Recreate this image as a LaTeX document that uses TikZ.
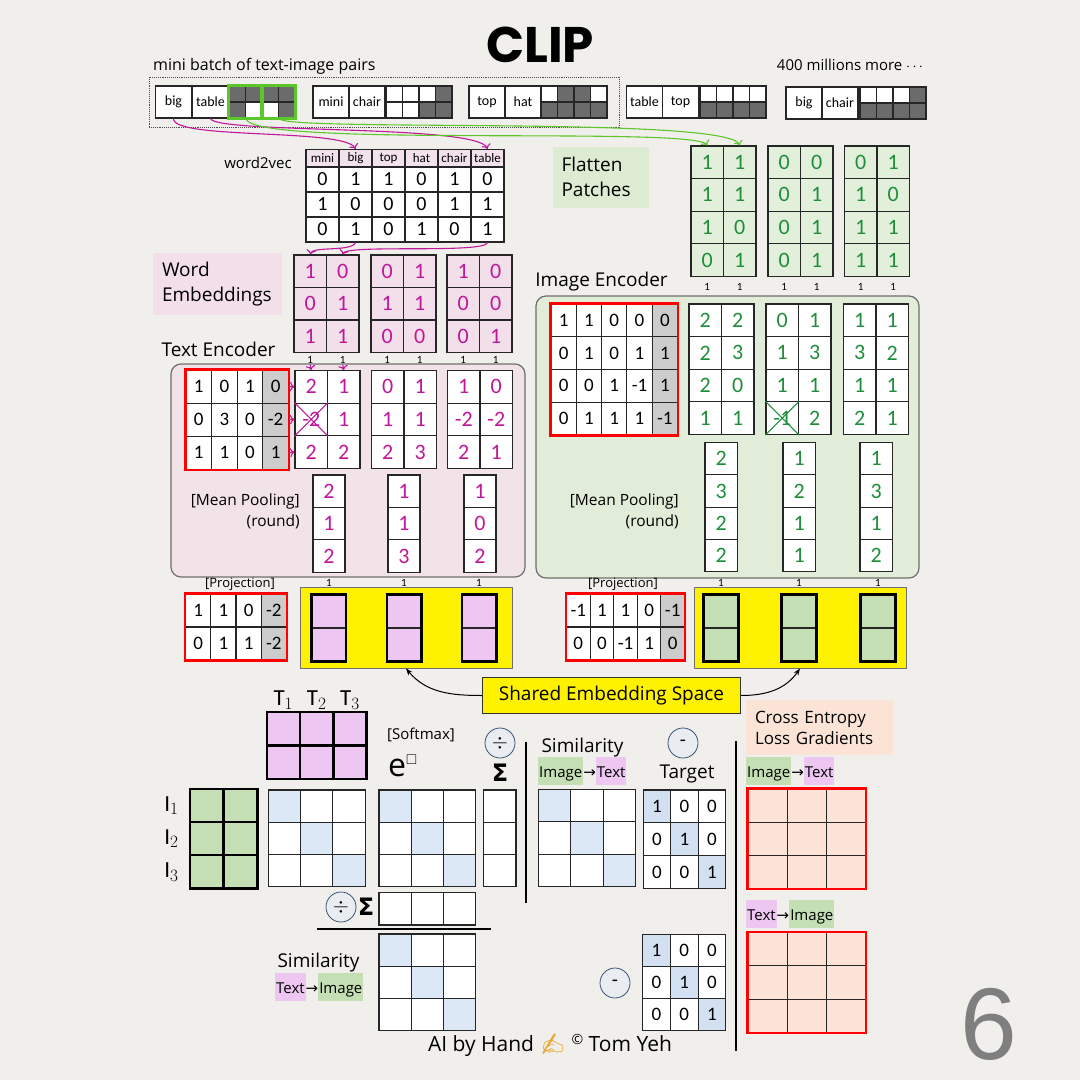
\documentclass[tikz,border=0pt]{standalone}
\usepackage{fontspec}
\usepackage{amssymb}
\setmainfont{Carlito}
\newfontfamily\lblfont{Open Sans}
\newfontfamily\titlefont{Poppins}
\newfontfamily\symfont{DejaVu Sans}
\newfontfamily\emojifont{Noto Emoji}
\newfontfamily\numfont{Liberation Sans}
\usetikzlibrary{arrows.meta, positioning}

\newcommand{\fs}[1]{\fontsize{#1}{#1}\selectfont}
\newcommand{\lf}[1]{\lblfont\fontsize{#1}{#1}\selectfont}

\definecolor{paper}{HTML}{F1EFEC}
\definecolor{pixdark}{HTML}{6B6B6B}
\definecolor{patchgreen}{HTML}{5CC72B}
\definecolor{handmag}{HTML}{C0179C}
\definecolor{handgrn}{HTML}{1F8E3B}
\definecolor{hdrpink}{HTML}{F3E2EB}
\definecolor{embpink}{HTML}{F2DFEA}
\definecolor{tencpink}{HTML}{F2E3E8}
\definecolor{iencgreen}{HTML}{E2EDD9}
\definecolor{flatgreen}{HTML}{E2EFDB}
\definecolor{flatbox}{HTML}{DCEBD2}
\definecolor{shade}{HTML}{CCCCCC}
\definecolor{projpink}{HTML}{EDC7F1}
\definecolor{projgreen}{HTML}{C5DFB4}
\definecolor{diagblue}{HTML}{DCE8F5}
\definecolor{tgblue}{HTML}{D3E0F1}
\definecolor{peach}{HTML}{FBE4D6}
\definecolor{circblue}{HTML}{3A5375}
\definecolor{circfill}{HTML}{E9ECF1}
\definecolor{panelgray}{HTML}{6F6F6F}
\definecolor{pagegray}{HTML}{7F7F7F}
\definecolor{handorange}{HTML}{E9A93A}

% colour tags for Image / Text
\newcommand{\imgtag}{{\setlength{\fboxsep}{1pt}\colorbox{projgreen}{\rule[-7pt]{0pt}{26pt}Image}}}
\newcommand{\txttag}{{\setlength{\fboxsep}{1pt}\colorbox{projpink}{\rule[-7pt]{0pt}{26pt}Text}}}
\newcommand{\tagarrow}{{\symfont\fs{15}→}}

% grid of cells with values: name, left, top, cell w, cell h, style, highlight test, rows
\newcommand{\mgrid}[8]{%
  \foreach \row [count=\i] in {#8} {
    \foreach \v [count=\j] in \row {
      \ifnum#7\relax\tikzset{hlcell/.style={hl}}\else\tikzset{hlcell/.style={}}\fi
      \node[cell, #6, hlcell, minimum width=#4pt, minimum height=#5pt]
        (#1-\i-\j) at ({#2+(\j-0.5)*#4},{#3+(\i-0.5)*#5}) {\v};
    }
  }
}
% empty grid: name, left, top, cell w, cell h, style, highlight test, cols, rows
\newcommand{\egrid}[9]{%
  \foreach \i in {1,...,#9} {
    \foreach \j in {1,...,#8} {
      \ifnum#7\relax\tikzset{hlcell/.style={hl}}\else\tikzset{hlcell/.style={}}\fi
      \node[cell, #6, hlcell, minimum width=#4pt, minimum height=#5pt]
        (#1-\i-\j) at ({#2+(\j-0.5)*#4},{#3+(\i-0.5)*#5}) {};
    }
  }
}

\tikzset{
  cell/.style={draw=black!85, line width=1.1pt, inner sep=0pt, fill=white},
  hl/.style={},
  hlcell/.style={},
  pix/.style={text opacity=0, hl/.style={fill=pixdark}},
  word/.style={cell, minimum width=36pt, minimum height=32pt, font=\fs{14}},
  hdr/.style={fill=hdrpink, font=\fs{13}},
  num/.style={font=\fs{20}},
  wnum/.style={font=\fs{19}, hl/.style={fill=shade}},
  tnum/.style={font=\fs{19}, hl/.style={fill=tgblue}},
  diag/.style={hl/.style={fill=diagblue}},
  mag/.style={text=handmag, font=\fs{22}},
  grn/.style={text=handgrn, font=\fs{22}},
  thickcell/.style={line width=2.4pt, draw=black},
  lbl/.style={font=\lf{19}, inner sep=1pt},
  small/.style={font=\fs{11}, inner sep=1pt},
  poollbl/.style={font=\lblfont\fontsize{15.5}{21}\selectfont, align=right, anchor=east, inner sep=1pt},
  tagbox/.style={align=left, inner xsep=9pt, font=\lblfont\fontsize{19}{25}\selectfont},
  tagline/.style={font=\lf{15}, anchor=north west, inner sep=0pt},
  panel/.style={draw=panelgray, line width=1.2pt, rounded corners=10pt},
  batchbox/.style={draw=black!70, densely dotted, line width=0.9pt},
  patchframe/.style={draw=patchgreen, line width=3pt},
  redframe/.style={draw=red, line width=2.6pt},
  thickframe/.style={draw=black, line width=2.8pt},
  yellowbox/.style={draw=panelgray, line width=1pt, fill=yellow},
  opcircle/.style={circle, draw=circblue, fill=circfill, minimum size=30pt, inner sep=0pt, line width=0.8pt, font=\fs{20}},
  sumsign/.style={font=\symfont\bfseries\fs{24}, inner sep=1pt},
  tlbl/.style={font=\fs{23}, inner sep=1pt},
  divline/.style={line width=1.6pt},
  magarr/.style={draw=handmag, line width=1.1pt, -{To[length=1.6mm]}},
  grnarr/.style={draw=patchgreen, line width=1.1pt, -{To[length=1.6mm]}},
  curvearr/.style={line width=1pt, -{Stealth[length=7pt]}},
}

\begin{document}
\begin{tikzpicture}[x=1pt, y=-1pt]
\useasboundingbox (0,0) rectangle (1080,1080);
\fill[paper] (0,0) rectangle (1080,1080);

\node[font=\titlefont\bfseries\fs{50}] (title) at (540,45) {CLIP};

% mini batch
\node[batchbox, minimum width=470pt, minimum height=50pt] (batch) at (384,102) {};
\node[lbl, font=\lf{16}, anchor=south west] (batchlbl) at (152,76) {mini batch of text-image pairs};
\node[lbl, font=\lf{15}] (more) at (850,65) {400 millions more $\cdots$};
\node[word] (p1a) at (173.5,102) {big};
\node[word] (p1b) at (210.5,102) {table};
\mgrid{p1img}{229}{86}{16.5}{16}{pix}{\v=1}{{1,1,1,1},{1,0,0,1}}
\draw[patchframe] (p1img-1-1.north west) rectangle (p1img-2-2.south east);
\draw[patchframe] (p1img-1-3.north west) rectangle (p1img-2-4.south east);
\node[word] (p2a) at (331,102) {mini};
\node[word] (p2b) at (367,102) {chair};
\mgrid{p2img}{386}{86}{16.5}{16}{pix}{\v=1}{{0,0,0,1},{0,0,1,1}}
\node[word] (p3a) at (487,102) {top};
\node[word] (p3b) at (523,102) {hat};
\mgrid{p3img}{541}{86}{16.5}{16}{pix}{\v=1}{{0,1,1,0},{1,1,1,1}}
\node[word] (p4a) at (644.5,102) {table};
\node[word] (p4b) at (680.5,102) {top};
\mgrid{p4img}{700}{86}{16.5}{16}{pix}{\v=1}{{0,0,0,0},{1,1,1,1}}
\node[word] (p5a) at (804,103) {big};
\node[word] (p5b) at (840,103) {chair};
\mgrid{p5img}{860}{87}{16.5}{16}{pix}{\v=1}{{0,0,0,1},{1,1,1,1}}

% word2vec
\node[lbl, font=\lf{15}] (w2vlbl) at (258,163) {word2vec};
\mgrid{w2vh}{306}{149.5}{33}{17.5}{hdr}{0=1}{{mini,big,top,hat,chair,table}}
\mgrid{w2v}{306}{167}{33}{25}{num}{0=1}{{0,1,1,0,1,0},{1,0,0,0,1,1},{0,1,0,1,0,1}}

% word embeddings
\node[tagbox, fill=embpink, text width=111pt, minimum height=62pt] (weblbl) at (217.5,284) {Word\\Embeddings};
\mgrid{we1}{294}{255}{32.5}{32.5}{mag, fill=embpink}{0=1}{{1,0},{0,1},{1,1}}
\mgrid{we2}{371}{255}{32.5}{32.5}{mag, fill=embpink}{0=1}{{0,1},{1,1},{0,0}}
\mgrid{we3}{447}{255}{32.5}{32.5}{mag, fill=embpink}{0=1}{{1,0},{0,0},{0,1}}
\foreach \x [count=\k] in {310.25,342.75,387.25,419.75,463.25,495.75}
  \node[small] (wone\k) at (\x,360) {1};

% flatten patches
\node[tagbox, fill=flatbox, text width=78pt, minimum height=61pt] (fplbl) at (600.5,177) {Flatten\\Patches};
\mgrid{fp1}{691}{146}{32.5}{32.6}{grn, fill=flatgreen}{0=1}{{1,1},{1,1},{1,0},{0,1}}
\mgrid{fp2}{768}{146}{32.5}{32.6}{grn, fill=flatgreen}{0=1}{{0,0},{0,1},{0,1},{0,1}}
\mgrid{fp3}{844.5}{146}{32.5}{32.6}{grn, fill=flatgreen}{0=1}{{0,1},{1,0},{1,1},{1,1}}
\foreach \x [count=\k] in {707.25,739.75,784.25,816.75,860.75,893.25}
  \node[small] (fone\k) at (\x,287) {1};

% batch -> word2vec / patches
\draw[magarr] (p1a.south) .. controls (172,140) and (345,128) .. (w2vh-1-2.north);
\draw[magarr] (p1b.south) .. controls (215,134) and (478,124) .. (w2vh-1-6.north);
\draw[grnarr] (p1img-2-1.south east) .. controls (250,148) and (695,126) .. (fp1-1-1.north);
\draw[grnarr] (p1img-2-3.south east) .. controls (285,132) and (728,116) .. (fp1-1-2.north);
\draw[magarr] (w2v-3-2.south) .. controls (352,252) and (312,246) .. (we1-1-1.north);
\draw[magarr] (w2v-3-6.south) .. controls (485,254) and (346,244) .. (we1-1-2.north);

% text encoder
\node[lbl] (tenclbl) at (218.5,349) {Text Encoder};
\node[panel, fill=tencpink, minimum width=354pt, minimum height=213pt] (tenc) at (348,470.5) {};
\mgrid{tw}{186}{370}{25.6}{33.1}{wnum}{\j=4}{{1,0,1,0},{0,3,0,-2},{1,1,0,1}}
\draw[redframe] (tw-1-1.north west) rectangle (tw-3-4.south east);
\mgrid{te1}{295}{370.5}{32.5}{32.6}{mag}{0=1}{{2,1},{-2,1},{2,2}}
\mgrid{te2}{371.5}{370.5}{32.5}{32.6}{mag}{0=1}{{0,1},{1,1},{2,3}}
\mgrid{te3}{447.5}{370.5}{32.5}{32.6}{mag}{0=1}{{1,0},{-2,-2},{2,1}}
\draw[handmag, line width=1pt] (te1-2-1.north west) -- (te1-2-1.south east)
  (te1-2-1.north east) -- (te1-2-1.south west);
\foreach \k in {1,2,3} \draw[magarr] (tw-\k-4.east) -- (te1-\k-1.west);
\draw[magarr] (wone1.south) -- (te1-1-1.north);
\draw[magarr] (wone2.south) -- (te1-1-2.north);
\mgrid{tp1}{313}{475}{32}{32.4}{mag}{0=1}{{2},{1},{2}}
\mgrid{tp2}{388}{475}{32}{32.4}{mag}{0=1}{{1},{1},{3}}
\mgrid{tp3}{464}{475}{32}{32.4}{mag}{0=1}{{1},{0},{2}}
\node[poollbl] (tpool) at (301,511) {[Mean Pooling]\\(round)};

% image encoder
\node[lbl] (ienclbl) at (601.5,282) {Image Encoder};
\node[panel, fill=iencgreen, minimum width=383pt, minimum height=282pt] (ienc) at (727.5,437) {};
\mgrid{iw}{551}{304}{25.3}{32.75}{wnum}{\j=5}{{1,1,0,0,0},{0,1,0,1,1},{0,0,1,-1,1},{0,1,1,1,-1}}
\draw[redframe] (iw-1-1.north west) rectangle (iw-4-5.south east);
\mgrid{ie1}{689}{304}{32.5}{32.6}{grn}{0=1}{{2,2},{2,3},{2,0},{1,1}}
\mgrid{ie2}{766}{304}{32.5}{32.6}{grn}{0=1}{{0,1},{1,3},{1,1},{-1,2}}
\mgrid{ie3}{843.5}{304}{32.5}{32.6}{grn}{0=1}{{1,1},{3,2},{1,1},{2,1}}
\draw[handgrn, line width=1pt] (ie2-4-1.north west) -- (ie2-4-1.south east)
  (ie2-4-1.north east) -- (ie2-4-1.south west);
\mgrid{ip1}{705}{442.5}{32.5}{32.3}{grn}{0=1}{{2},{3},{2},{2}}
\mgrid{ip2}{783}{442.5}{32.5}{32.3}{grn}{0=1}{{1},{2},{1},{1}}
\mgrid{ip3}{860}{442.5}{32.5}{32.3}{grn}{0=1}{{1},{3},{1},{2}}
\node[poollbl] (ipool) at (680,511) {[Mean Pooling]\\(round)};

% projections
\node[lbl, font=\lf{13}] (tprojlbl) at (240,584) {[Projection]};
\mgrid{tpw}{185.5}{594}{25.25}{33}{wnum}{\j=4}{{1,1,0,-2},{0,1,1,-2}}
\draw[redframe] (tpw-1-1.north west) rectangle (tpw-2-4.south east);
\node[yellowbox, minimum width=212pt, minimum height=81pt] (tyel) at (406,627.5) {};
\foreach \n/\x in {1/312,2/387.5,3/462.5} {
  \egrid{tv\n}{\x}{595}{33.5}{33}{fill=projpink}{0=1}{1}{2}
  \draw[thickframe] (tv\n-1-1.north west) rectangle (tv\n-2-1.south east);
}
\foreach \x [count=\k] in {329,404,479}
  \node[small] (tone\k) at (\x,583) {1};

\node[lbl, font=\lf{13}] (iprojlbl) at (623,584) {[Projection]};
\mgrid{ipw}{566.5}{594}{23.6}{33}{wnum}{\j=5}{{-1,1,1,0,-1},{0,0,-1,1,0}}
\draw[redframe] (ipw-1-1.north west) rectangle (ipw-2-5.south east);
\node[yellowbox, minimum width=212pt, minimum height=81pt] (iyel) at (800,627.5) {};
\foreach \n/\x in {1/704,2/782,3/861} {
  \egrid{iv\n}{\x}{595}{34}{33}{fill=projgreen}{0=1}{1}{2}
  \draw[thickframe] (iv\n-1-1.north west) rectangle (iv\n-2-1.south east);
}
\foreach \x [count=\k] in {721,799,878}
  \node[small] (ione\k) at (\x,583) {1};

% shared space
\node[yellowbox, draw=black!80, minimum width=258pt, minimum height=36pt, font=\lf{19}] (shared) at (611.5,695.5) {Shared Embedding Space};
\draw[curvearr] (shared.west) to[out=180, in=-50] (tyel.south);
\draw[curvearr] (shared.east) to[out=0, in=-125] (iyel.south);

% similarity and softmax
\egrid{tm}{266.7}{712}{33.3}{33.5}{fill=projpink, thickcell}{0=1}{3}{2}
\foreach \k in {1,2,3} \node[tlbl, above=0pt of tm-1-\k] (tlab\k) {$\mathrm{T}_\k$};
\egrid{im}{190}{789}{33.65}{33.1}{fill=projgreen, thickcell}{0=1}{2}{3}
\foreach \k in {1,2,3} \node[tlbl, left=9pt of im-\k-1] (ilab\k) {$\mathrm{I}_\k$};
\egrid{sim}{268.3}{790}{32.3}{32.3}{diag}{\i=\j}{3}{3}
\egrid{ex}{379}{790}{32.3}{32.3}{diag}{\i=\j}{3}{3}
\node[lbl, font=\lf{15}] (softlbl) at (421,735) {[Softmax]};
\node[anchor=base west, font=\lf{32}, inner sep=0pt] (expo) at (388,776) {e\raisebox{12pt}{\fs{14}$\square$}};
\node[opcircle] (div1) at (500,743) {$\div$};
\node[sumsign] (sum1) at (500,773) {Σ};
\egrid{cs}{483.5}{790}{32.5}{32.3}{}{0=1}{1}{3}
\draw[divline] (526,742) -- (526,903);

\node[opcircle] (div2) at (341,907) {$\div$};
\node[sumsign] (sum2) at (366,907) {Σ};
\egrid{rs}{379}{892.5}{32.3}{32.5}{}{0=1}{3}{1}
\draw[divline] (317,929) -- (491,929);

\egrid{simt}{379}{934}{32.3}{32.3}{diag}{\i=\j}{3}{3}
\node[lbl] (simtlbl) at (318.5,963) {Similarity};
\node[tagline] (simttag) at (275,973) {\txttag\tagarrow\imgtag};

\node[lbl] (similbl) at (582.5,748) {Similarity};
\node[tagline] (simitag) at (538,757) {\imgtag\tagarrow\txttag};
\egrid{simi}{538.5}{789.5}{32.4}{32.4}{diag}{\i=\j}{3}{3}
\node[opcircle] (minus1) at (683,743) {-};
\node[lbl, font=\lf{19}] (tglbl) at (687,774) {Target};
\mgrid{tg}{643.3}{790}{27.5}{32.8}{tnum}{\i=\j}{{1,0,0},{0,1,0},{0,0,1}}
\node[opcircle] (minus2) at (615,983) {-};
\mgrid{tg2}{642.7}{934.3}{27.7}{32.2}{tnum}{\i=\j}{{1,0,0},{0,1,0},{0,0,1}}

% loss gradients
\draw[divline] (736,741) -- (736,1051);
\node[tagbox, fill=peach, text width=129pt, minimum height=55pt, font=\lblfont\fontsize{17}{21}\selectfont] (celbl) at (819.5,727.5) {Cross Entropy\\Loss Gradients};
\node[tagline] (g1tag) at (746,757) {\imgtag\tagarrow\txttag};
\egrid{g1}{748.3}{789.3}{39}{33}{fill=peach}{0=1}{3}{3}
\draw[redframe] (g1-1-1.north west) rectangle (g1-3-3.south east);
\node[tagline] (g2tag) at (746,900) {\txttag\tagarrow\imgtag};
\egrid{g2}{748.3}{932.7}{39}{33.2}{fill=peach}{0=1}{3}{3}
\draw[redframe] (g2-1-1.north west) rectangle (g2-3-3.south east);

\node[lbl, font=\lf{21}] (credit) at (550,1045) {AI by Hand {\emojifont\color{handorange}✍} {\fs{14}\raisebox{7pt}{©}} Tom Yeh};
\node[font=\numfont\fs{102}, text=pagegray, inner sep=0pt] (pagenum) at (989,1024) {6};
\end{tikzpicture}
\end{document}
